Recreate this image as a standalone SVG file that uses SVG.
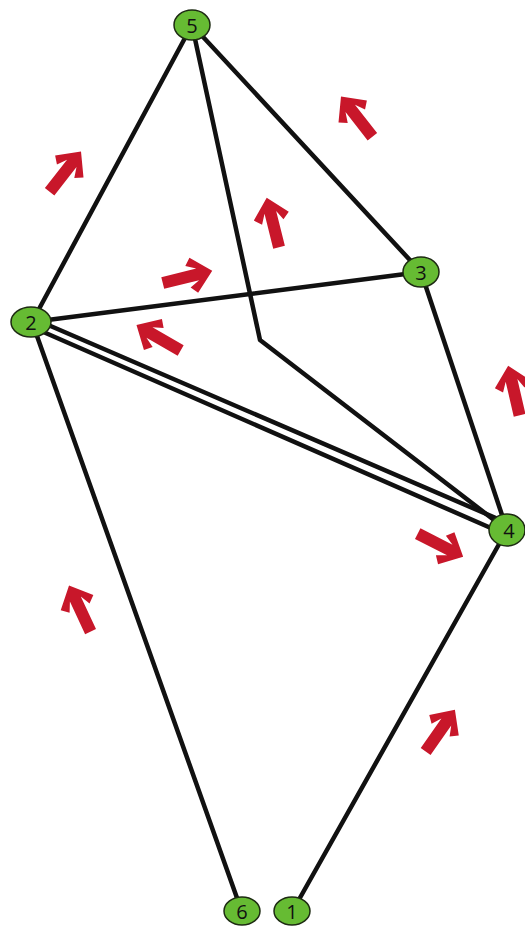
<svg xmlns="http://www.w3.org/2000/svg" width="525" height="926" viewBox="0 0 525 926">
  <style>
    .edge { stroke: #111; stroke-width: 4.5; fill: none; stroke-linecap: round; stroke-linejoin: round; }
    .node ellipse { fill: #66bb33; stroke: #1d2a12; stroke-width: 1.5; }
    .node text { font-family: "Open Sans", "DejaVu Sans", sans-serif; font-size: 20px; fill: #111; text-anchor: middle; dominant-baseline: central; }
    .flow { fill: #c8172a; }
  </style>
  <defs>
    <!-- upward chevron arrow, centred on the origin -->
    <polygon id="arrow" points="0,-26 18,-7 11,-1 6,-11 6,25 -6,25 -6,-11 -11,-1 -18,-7"/>
  </defs>
  <rect width="525" height="926" fill="#fff"/>

  <g id="connectors">
    <line class="edge" x1="192" y1="25" x2="32" y2="322"/>
    <line class="edge" x1="192" y1="25" x2="421" y2="272"/>
    <polyline class="edge" points="192,25 260,340 507,530"/>
    <line class="edge" x1="32" y1="322" x2="421" y2="272"/>
    <line class="edge" x1="32" y1="318" x2="505" y2="522"/>
    <line class="edge" x1="32" y1="327" x2="500" y2="532"/>
    <line class="edge" x1="421" y1="272" x2="507" y2="530"/>
    <line class="edge" x1="32" y1="322" x2="242" y2="912"/>
    <line class="edge" x1="507" y1="530" x2="292" y2="912"/>
  </g>

  <g id="flows" class="flow">
    <use href="#arrow" transform="translate(65,172) rotate(38)"/>
    <use href="#arrow" transform="translate(357,117) rotate(-38)"/>
    <use href="#arrow" transform="translate(273,223) rotate(-14)"/>
    <use href="#arrow" transform="translate(187,277) rotate(76)"/>
    <use href="#arrow" transform="translate(159,338) rotate(-60)"/>
    <use href="#arrow" transform="translate(514,391) rotate(-13)"/>
    <use href="#arrow" transform="translate(440,545) rotate(117)"/>
    <use href="#arrow" transform="translate(80,609) rotate(-25)"/>
    <use href="#arrow" transform="translate(440,731) rotate(35)"/>
  </g>

  <g id="node-5" class="node"><ellipse cx="192" cy="25" rx="18" ry="15"/><text x="192" y="25">5</text></g>
  <g id="node-2" class="node"><ellipse cx="31" cy="322" rx="20" ry="15"/><text x="31" y="322">2</text></g>
  <g id="node-3" class="node"><ellipse cx="421" cy="272" rx="18" ry="15"/><text x="421" y="272">3</text></g>
  <g id="node-4" class="node"><ellipse cx="507" cy="530" rx="18" ry="16"/><text x="509" y="530">4</text></g>
  <g id="node-6" class="node"><ellipse cx="242" cy="911" rx="18" ry="14"/><text x="242" y="911">6</text></g>
  <g id="node-1" class="node"><ellipse cx="292" cy="911" rx="18" ry="14"/><text x="292" y="911">1</text></g>
</svg>
